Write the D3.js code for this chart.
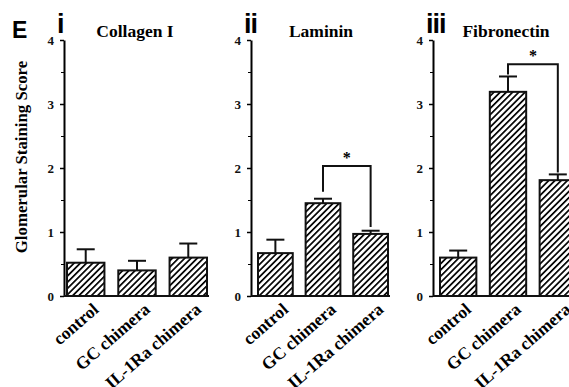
<!DOCTYPE html>
<html>
<head>
<meta charset="utf-8"/>
<title>Glomerular staining</title>
<script src="https://cdn.jsdelivr.net/npm/d3@7/dist/d3.min.js"></script>
<style>
html, body {
    margin: 0;
    padding: 0;
    background: #fff;
}
.serif { font-family: "Liberation Serif", "Times New Roman", serif; font-weight: bold; }
.sans { font-family: "Liberation Sans", Arial, sans-serif; font-weight: bold; }
</style>
</head>
<body>
<svg id="chart" width="569" height="387"></svg>

<script>

// Data.
const categories = ["control", "GC chimera", "IL-1Ra chimera"];
const panelTitles = ["Collagen I", "Laminin", "Fibronectin"];
const panelNumerals = ["i", "ii", "iii"];
const collagenMeans = [0.52, 0.40, 0.60];
const collagenErrors = [0.21, 0.15, 0.22];
const lamininMeans = [0.67, 1.45, 0.97];
const lamininErrors = [0.21, 0.07, 0.05];
const fibronectinMeans = [0.60, 3.19, 1.81];
const fibronectinErrors = [0.11, 0.24, 0.09];
const yTicks = [0, 1, 2, 3, 4];
const yMinorTicks = [0.5, 1.5, 2.5, 3.5];
// significance bracket: [from index, to index, top, left foot, right foot]
const lamininSig = [1, 2, 2.03, 1.63, 1.08];
const fibronectinSig = [1, 2, 3.62, 3.46, 1.93];

// Layout.
const yTop = 40, yBottom = 296;
const axisX = [64, 251, 433];
const barRanges = [[67, 207], [258, 388], [440, 576]];

const panels = [
    {means: collagenMeans, errors: collagenErrors, sig: null},
    {means: lamininMeans, errors: lamininErrors, sig: lamininSig},
    {means: fibronectinMeans, errors: fibronectinErrors, sig: fibronectinSig}
];

const svg = d3.select("#chart");

// Diagonal hatch pattern.
const defs = svg.append("defs");
defs.append("pattern")
    .attr("id", "hatch")
    .attr("patternUnits", "userSpaceOnUse")
    .attr("width", 4.4)
    .attr("height", 4.4)
    .attr("patternTransform", "rotate(45)")
    .append("line")
    .attr("x1", 0).attr("y1", 0)
    .attr("x2", 0).attr("y2", 4.4)
    .attr("stroke", "#000")
    .attr("stroke-width", 3.4);

const y = d3.scaleLinear().domain([0, 4]).range([yBottom, yTop]);

// Panel letter and shared y label.
svg.append("text")
    .attr("class", "sans")
    .attr("x", 12).attr("y", 38)
    .style("font-size", "23px")
    .text("E");

svg.append("text")
    .attr("class", "serif")
    .attr("transform", "translate(27," + 157 + ") rotate(-90)")
    .style("text-anchor", "middle")
    .style("font-size", "16.8px")
    .text("Glomerular Staining Score");

panels.forEach(function(p, k) {
    const g = svg.append("g");
    const x = d3.scaleBand()
        .domain(categories)
        .range(barRanges[k])
        .paddingInner(0.27)
        .paddingOuter(0);
    const bw = x.bandwidth();
    const cx = function(i) { return x(categories[i]) + bw / 2; };

    // y axis with labelled and minor ticks
    const ax = g.append("g")
        .attr("transform", "translate(" + axisX[k] + ",0)")
        .call(d3.axisLeft(y).tickValues(yTicks).tickSize(4).tickSizeOuter(0).tickFormat(d3.format("d")));
    ax.select(".domain").attr("stroke-width", 2);
    ax.selectAll(".tick line").attr("stroke-width", 1.5);
    ax.selectAll(".tick text")
        .attr("class", "serif")
        .attr("x", -10)
        .style("font-size", "13px")
        .attr("fill", "#111");
    g.append("g")
        .attr("transform", "translate(" + axisX[k] + ",0)")
        .call(d3.axisLeft(y).tickValues(yMinorTicks).tickSize(3).tickFormat(""))
        .call(function(s) { s.select(".domain").remove(); });

    // baseline
    g.append("line")
        .attr("x1", axisX[k]).attr("x2", barRanges[k][1] + 2)
        .attr("y1", y(0)).attr("y2", y(0))
        .attr("stroke", "#111").attr("stroke-width", 2.2);

    // error bars
    p.means.forEach(function(m, i) {
        const top = y(m + p.errors[i]);
        g.append("line")
            .attr("x1", cx(i)).attr("x2", cx(i))
            .attr("y1", y(m)).attr("y2", top)
            .attr("stroke", "#111").attr("stroke-width", 2);
        g.append("line")
            .attr("x1", cx(i) - 9).attr("x2", cx(i) + 9)
            .attr("y1", top).attr("y2", top)
            .attr("stroke", "#111").attr("stroke-width", 2);
    });

    // bars
    g.selectAll("rect.bar")
        .data(p.means)
        .join("rect")
        .attr("class", "bar")
        .attr("x", function(d, i) { return x(categories[i]); })
        .attr("y", function(d) { return y(d); })
        .attr("width", bw)
        .attr("height", function(d) { return y(0) - y(d); })
        .attr("fill", "url(#hatch)")
        .attr("stroke", "#111")
        .attr("stroke-width", 2);

    // significance bracket
    if (p.sig) {
        const s = p.sig;
        const x1 = cx(s[0]), x2 = cx(s[1]);
        g.append("path")
            .attr("d", d3.line()([[x1, y(s[3])], [x1, y(s[2])], [x2, y(s[2])], [x2, y(s[4])]]))
            .attr("fill", "none")
            .attr("stroke", "#111")
            .attr("stroke-width", 2);
        g.append("text")
            .attr("class", "serif")
            .attr("x", (x1 + x2) / 2)
            .attr("y", y(s[2]) - 3)
            .style("text-anchor", "middle")
            .style("font-size", "16px")
            .text("*");
    }

    // numeral and title
    g.append("text")
        .attr("class", "sans")
        .attr("x", axisX[k] - 7).attr("y", 33)
        .style("font-size", "27px")
        .style("letter-spacing", "-1px")
        .text(panelNumerals[k]);
    g.append("text")
        .attr("class", "serif")
        .attr("x", (barRanges[k][0] + barRanges[k][1]) / 2 - 2)
        .attr("y", 37)
        .style("text-anchor", "middle")
        .style("font-size", "17.5px")
        .text(panelTitles[k]);

    // rotated category labels
    categories.forEach(function(c, i) {
        g.append("text")
            .attr("class", "serif")
            .attr("transform", "translate(" + (cx(i) + 14) + "," + (y(0) + 15) + ") rotate(-41)")
            .style("text-anchor", "end")
            .style("font-size", "17.5px")
            .text(c);
    });
});

</script>
</body>
</html>
